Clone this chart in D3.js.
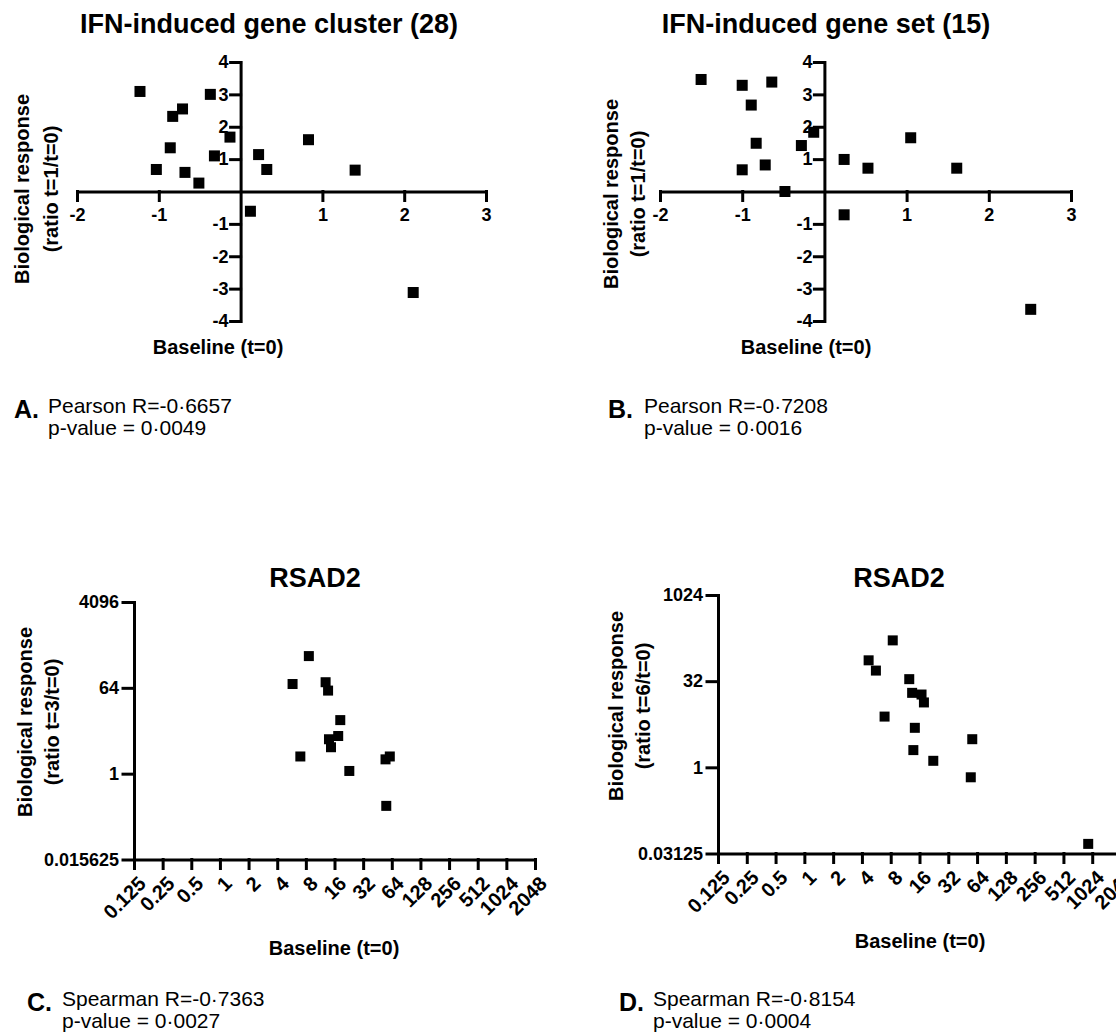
<!DOCTYPE html>
<html>
<head>
<meta charset="utf-8">
<script src="https://cdnjs.cloudflare.com/ajax/libs/d3/7.8.5/d3.min.js"></script>
<style>
    body { margin: 0; background: #fff; }
    svg { font-family: "Liberation Sans", Arial, Helvetica, sans-serif; }
    .axis path, .axis line { stroke: #000; stroke-width: 3; stroke-linecap: square; }
    .axis text { font-size: 18px; font-weight: bold; fill: #000; }
    .log-x text { font-size: 20px; }
    .title { font-size: 27px; font-weight: bold; }
    .label { font-size: 20px; font-weight: bold; }
    .stat { font-size: 21px; }
    .letter { font-size: 25px; font-weight: bold; }
</style>
</head>
<body>
<div class="chart"></div>
<script>
var svgWidth = 1116;
var svgHeight = 1035;

// A: IFN-induced gene cluster (28)
var clusterBaseline = [-1.23, -0.37, -0.71, -0.83, -0.13, 0.83, -0.86, -0.32, 0.22, -1.03, 0.32, 1.40, -0.68, -0.51, 0.12, 2.11];
var clusterResponse = [3.09, 3.00, 2.55, 2.32, 1.68, 1.60, 1.35, 1.10, 1.14, 0.68, 0.68, 0.66, 0.59, 0.26, -0.61, -3.12];

// B: IFN-induced gene set (15)
var geneSetBaseline = [-1.50, -1.00, -0.64, -0.89, -0.13, 1.05, -0.83, -0.28, 0.24, -1.00, -0.72, 0.53, 1.61, -0.48, 0.24, 2.51];
var geneSetResponse = [3.46, 3.28, 3.38, 2.67, 1.83, 1.66, 1.49, 1.42, 0.99, 0.67, 0.82, 0.72, 0.72, 0.00, -0.72, -3.64];

// C: RSAD2, ratio t=3/t=0
var rsad2T3Baseline = [8.6, 5.8, 12.9, 13.7, 18.4, 17.5, 14.0, 14.7, 7.0, 22.9, 55, 61, 56];
var rsad2T3Response = [298, 77, 84, 56, 13.4, 6.2, 5.3, 3.6, 2.3, 1.14, 2.0, 2.3, 0.21];

// D: RSAD2, ratio t=6/t=0
var rsad2T6Baseline = [8.4, 4.7, 5.6, 12.5, 13.4, 16.8, 17.8, 6.9, 14.3, 57, 13.8, 22.3, 55, 930];
var rsad2T6Response = [165, 74, 49, 34.7, 20, 18.7, 13.6, 7.7, 4.9, 3.1, 2.0, 1.3, 0.67, 0.046];

// tick labels
var linearXTicks = [-2, -1, 1, 2, 3];
var linearYTicks = [-4, -3, -2, -1, 1, 2, 3, 4];
var log2XTicks = [0.125, 0.25, 0.5, 1, 2, 4, 8, 16, 32, 64, 128, 256, 512, 1024, 2048];
var rsad2T3YTicks = [0.015625, 1, 64, 4096];
var rsad2T6YTicks = [0.03125, 1, 32, 1024];

var svg = d3
    .select(".chart")
    .append("svg")
    .attr("width", svgWidth)
    .attr("height", svgHeight);

// squares for each point
function drawPoints(xs, ys, xScale, yScale, size) {
    svg.append("g")
        .selectAll("rect")
        .data(xs)
        .enter()
        .append("rect")
        .attr("x", (d, i) => xScale(d) - size / 2)
        .attr("y", (d, i) => yScale(ys[i]) - size / 2)
        .attr("width", size)
        .attr("height", size)
        .attr("fill", "#000");
}

function yLabel(x1, x2, cy, text2) {
    svg.append("text")
        .classed("label", true)
        .attr("transform", `translate(${x1}, ${cy}) rotate(-90)`)
        .attr("text-anchor", "middle")
        .attr("dy", "0.35em")
        .text("Biological response");
    svg.append("text")
        .classed("label", true)
        .attr("transform", `translate(${x2}, ${cy}) rotate(-90)`)
        .attr("text-anchor", "middle")
        .attr("dy", "0.35em")
        .text(text2);
}

function plainText(cls, x, y, anchor, text) {
    svg.append("text")
        .classed(cls, true)
        .attr("x", x)
        .attr("y", y)
        .attr("text-anchor", anchor)
        .text(text);
}

function statBlock(letter, lx, tx, y, line1, line2) {
    plainText("letter", lx, y + 5, "start", letter);
    plainText("stat", tx, y, "start", line1);
    plainText("stat", tx, y + 22, "start", line2);
}

// crossing axes panel (A and B)
function linearPanel(xs, ys, xRange, title, titleX, xLabelX, yLab) {
    var xScale = d3.scaleLinear().domain([-2, 3]).range(xRange);
    var yScale = d3.scaleLinear().domain([-4, 4]).range([321, 62]);

    svg.append("g")
        .classed("axis", true)
        .attr("transform", `translate(0, ${yScale(0)})`)
        .call(d3.axisBottom(xScale).tickValues(linearXTicks).tickFormat(d => String(d))
            .tickSize(9).tickSizeOuter(0).tickPadding(8));

    svg.append("g")
        .classed("axis", true)
        .attr("transform", `translate(${xScale(0)}, 0)`)
        .call(d3.axisLeft(yScale).tickValues(linearYTicks).tickFormat(d => String(d))
            .tickSize(10).tickSizeOuter(0).tickPadding(2));

    drawPoints(xs, ys, xScale, yScale, 11);

    plainText("title", titleX, 33, "middle", title);
    plainText("label", xLabelX, 354, "middle", "Baseline (t=0)");
    yLabel(yLab[0], yLab[1], yLab[2], "(ratio t=1/t=0)");
}

// log2 panel (C and D)
function logPanel(xs, ys, xRange, yDomain, yRange, yTicks, titleX, xLabelX, xLabelY, yLab, ratioText) {
    var xScale = d3.scaleLog().base(2).domain([0.125, 2048]).range(xRange);
    var yScale = d3.scaleLog().base(2).domain(yDomain).range(yRange);

    var xAxis = svg.append("g")
        .classed("axis", true)
        .classed("log-x", true)
        .attr("transform", `translate(0, ${yRange[0]})`)
        .call(d3.axisBottom(xScale).tickValues(log2XTicks).tickFormat(d => String(d)).tickSize(9).tickSizeOuter(0));

    // slanted tick labels
    xAxis.selectAll("text")
        .attr("text-anchor", "end")
        .attr("transform", "rotate(-45)")
        .attr("x", -9)
        .attr("y", 20)
        .attr("dy", "0.35em");

    svg.append("g")
        .classed("axis", true)
        .attr("transform", `translate(${xRange[0]}, 0)`)
        .call(d3.axisLeft(yScale).tickValues(yTicks).tickFormat(d => String(d)).tickSize(11).tickSizeOuter(0).tickPadding(4));

    drawPoints(xs, ys, xScale, yScale, 10);

    plainText("title", titleX, 587, "middle", "RSAD2");
    plainText("label", xLabelX, xLabelY, "middle", "Baseline (t=0)");
    yLabel(yLab[0], yLab[1], yLab[2], ratioText);
}

linearPanel(clusterBaseline, clusterResponse, [77, 486], "IFN-induced gene cluster (28)", 269, 218, [22, 51, 189]);
linearPanel(geneSetBaseline, geneSetResponse, [660, 1071], "IFN-induced gene set (15)", 826, 806, [611, 638, 194]);

logPanel(rsad2T3Baseline, rsad2T3Response, [134, 535], [0.015625, 4096], [859.5, 602], rsad2T3YTicks,
    315, 334, 955, [25, 52, 722], "(ratio t=3/t=0)");
logPanel(rsad2T6Baseline, rsad2T6Response, [718, 1121], [0.03125, 1024], [853.5, 595], rsad2T6YTicks,
    899, 920, 948, [616, 643, 706], "(ratio t=6/t=0)");

statBlock("A.", 14, 48, 413, "Pearson R=-0·6657", "p-value = 0·0049");
statBlock("B.", 608, 644, 413, "Pearson R=-0·7208", "p-value = 0·0016");
statBlock("C.", 27, 62, 1006, "Spearman R=-0·7363", "p-value = 0·0027");
statBlock("D.", 619, 653, 1006, "Spearman R=-0·8154", "p-value = 0·0004");
</script>
</body>
</html>
